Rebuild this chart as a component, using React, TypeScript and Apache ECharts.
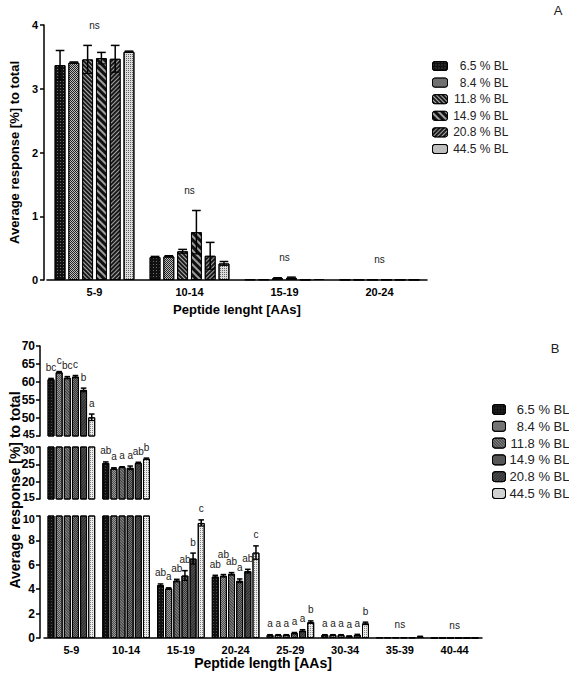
import React, { useEffect, useRef } from 'react';
import * as echarts from 'echarts';

const FONT = '"Liberation Sans", Arial, Helvetica, sans-serif';

const seriesNames = ['6.5 % BL', '8.4 % BL', '11.8 % BL', '14.9 % BL', '20.8 % BL', '44.5 % BL'];

// Panel A
const categoriesA = ['5-9', '10-14', '15-19', '20-24'];
const meanA = [
  [3.37, 0.36, 0.01, 0.005],
  [3.41, 0.37, 0.01, 0.005],
  [3.46, 0.45, 0.03, 0.005],
  [3.48, 0.75, 0.035, 0.005],
  [3.47, 0.38, 0.005, 0.005],
  [3.58, 0.26, 0.015, 0.005],
];
const errA = [
  [0.23, 0.01, 0, 0],
  [0.01, 0.01, 0, 0],
  [0.22, 0.03, 0.005, 0],
  [0.09, 0.34, 0.01, 0],
  [0.21, 0.21, 0, 0],
  [0.01, 0.03, 0, 0],
];
const groupLabelsA = ['ns', 'ns', 'ns', 'ns'];
const yRangeA = [0, 4, 1];

// Panel B
const categoriesB = ['5-9', '10-14', '15-19', '20-24', '25-29', '30-34', '35-39', '40-44'];
const meanB = [
  [60.8, 25.4, 4.33, 5.04, 0.25, 0.25, 0.05, 0.01],
  [62.7, 23.8, 4.06, 5.1, 0.25, 0.25, 0.05, 0.01],
  [61.2, 24.2, 4.71, 5.26, 0.25, 0.25, 0.05, 0.01],
  [61.5, 24.0, 5.12, 4.69, 0.4, 0.15, 0.05, 0.01],
  [57.8, 25.4, 6.51, 5.48, 0.6, 0.25, 0.05, 0.01],
  [50.2, 26.6, 9.43, 7.0, 1.3, 1.2, 0.12, 0.01],
];
const errB = [
  [0.2, 0.3, 0.1, 0.1, 0.02, 0.02, 0, 0],
  [0.2, 0.2, 0.05, 0.1, 0.02, 0.02, 0, 0],
  [0.3, 0.1, 0.1, 0.1, 0.02, 0.02, 0, 0],
  [0.3, 0.5, 0.4, 0.15, 0.05, 0.02, 0, 0],
  [0.5, 0.2, 0.45, 0.15, 0.08, 0.05, 0, 0],
  [0.9, 0.2, 0.25, 0.55, 0.1, 0.1, 0.02, 0],
];
const lettersB = [
  ['bc', 'ab', 'ab', 'ab', 'a', 'a', '', ''],
  ['c', 'a', 'a', 'ab', 'a', 'a', '', ''],
  ['bc', 'a', 'ab', 'ab', 'a', 'a', '', ''],
  ['c', 'a', 'ab', 'a', 'a', 'a', '', ''],
  ['b', 'ab', 'b', 'ab', 'a', 'a', '', ''],
  ['a', 'b', 'c', 'c', 'b', 'b', '', ''],
];
const groupLabelsB = ['', '', '', '', '', '', 'ns', 'ns'];
// broken axis segments: [min, max, interval]
const segmentsB = [
  [45, 70, 5],
  [15, 30, 5],
  [0, 10, 2],
];

// ---------- styles / layout ----------
const GRID_A = { left: 43, top: 25, width: 384, height: 255 };
const Y_OFFSET_A = 3;
const GRIDS_B = [
  { left: 44, top: 346, width: 438, height: 90 },
  { left: 44, top: 447, width: 438, height: 52 },
  { left: 44, top: 516, width: 438, height: 122 },
];
const Y_OFFSET_B = 4;
const CAT_GAP_A = 0.16;
const BAR_GAP_A = 0.27;
const CAT_GAP_B = 0.13;
const BAR_GAP_B = 0.17;

const stylesA = [
  { color: '#111', decal: { symbol: 'rect', symbolSize: 1, color: 'rgba(255,255,255,0.4)', dashArrayX: [1, 2], dashArrayY: [1, 2] } },
  { color: '#222', decal: { symbol: 'rect', symbolSize: 1, color: 'rgba(255,255,255,0.7)', dashArrayX: [[1, 1], [0, 1, 1, 0]], dashArrayY: [1, 0] } },
  { color: '#1a1a1a', decal: { symbol: 'rect', symbolSize: 1, color: 'rgba(255,255,255,0.65)', dashArrayX: [1, 0], dashArrayY: [1, 2], rotation: Math.PI / 4 } },
  { color: '#111', decal: { symbol: 'rect', symbolSize: 1, color: 'rgba(255,255,255,0.6)', dashArrayX: [1, 0], dashArrayY: [2, 3], rotation: Math.PI / 4 } },
  { color: '#1a1a1a', decal: { symbol: 'rect', symbolSize: 1, color: 'rgba(255,255,255,0.6)', dashArrayX: [1, 0], dashArrayY: [1, 2], rotation: -Math.PI / 4 } },
  { color: '#dcdcdc', decal: { symbol: 'rect', symbolSize: 1, color: 'rgba(0,0,0,0.55)', dashArrayX: [1, 1], dashArrayY: [1, 1] } },
];
const stylesB = [
  { color: '#111', decal: { symbol: 'rect', symbolSize: 1, color: 'rgba(255,255,255,0.25)', dashArrayX: [1, 2], dashArrayY: [1, 2] } },
  { color: '#9a9a9a', decal: { symbol: 'rect', symbolSize: 1, color: 'rgba(0,0,0,0.5)', dashArrayX: [[1, 1], [0, 1, 1, 0]], dashArrayY: [1, 0] } },
  { color: '#888', decal: { symbol: 'rect', symbolSize: 1, color: 'rgba(0,0,0,0.55)', dashArrayX: [1, 0], dashArrayY: [1, 1], rotation: Math.PI / 4 } },
  { color: '#777', decal: { symbol: 'rect', symbolSize: 1, color: 'rgba(0,0,0,0.55)', dashArrayX: [[1, 1], [0, 1, 1, 0]], dashArrayY: [1, 0] } },
  { color: '#555', decal: { symbol: 'rect', symbolSize: 1, color: 'rgba(0,0,0,0.5)', dashArrayX: [1, 0], dashArrayY: [1, 1], rotation: -Math.PI / 4 } },
  { color: '#ececec', decal: { symbol: 'rect', symbolSize: 1, color: 'rgba(0,0,0,0.45)', dashArrayX: [1, 1], dashArrayY: [1, 1] } },
];

type Item = { cat: number; si: number; mean: number; err: number; label: string };
type Box = { x1: number; x2: number; y1: number; y2: number };

function errorSeries(
  xi: number,
  yi: number,
  items: Item[],
  catGap: number,
  barGap: number,
  fontSize: number,
  labelGap: number,
  groupGap: number
) {
  const n = seriesNames.length;
  let placed: Box[] = [];
  return {
    type: 'custom',
    xAxisIndex: xi,
    yAxisIndex: yi,
    z: 10,
    silent: true,
    clip: false,
    data: items.map((it) => [it.cat, it.mean + it.err]),
    encode: { x: 0, y: 1 },
    renderItem: (params: any, api: any) => {
      if (params.dataIndex === 0) placed = [];
      const it = items[params.dataIndex];
      const band = api.size([1, 0])[0];
      const cx = api.coord([it.cat, 0])[0];
      let x = cx;
      let capW = 0;
      if (it.si >= 0) {
        const rem = band * (1 - catGap);
        const bw = rem / (n + (n - 1) * barGap);
        x = cx - rem / 2 + it.si * bw * (1 + barGap) + bw / 2;
        capW = bw * 0.8;
      }
      const yHi = api.coord([it.cat, it.mean + it.err])[1];
      const yLo = api.coord([it.cat, it.mean - it.err])[1];
      const children: any[] = [];
      if (it.err > 0) {
        children.push({
          type: 'line',
          shape: { x1: x, y1: yLo, x2: x, y2: yHi },
          style: { stroke: '#000', lineWidth: 1.5 },
        });
        children.push({
          type: 'line',
          shape: { x1: x - capW / 2, y1: yHi, x2: x + capW / 2, y2: yHi },
          style: { stroke: '#000', lineWidth: 1.5 },
        });
        children.push({
          type: 'line',
          shape: { x1: x - capW / 2, y1: yLo, x2: x + capW / 2, y2: yLo },
          style: { stroke: '#000', lineWidth: 1.2 },
        });
      }
      if (it.label) {
        const isGroup = it.si < 0;
        let bottom = yHi - (isGroup ? groupGap : labelGap);
        const w = it.label.length * fontSize * 0.556;
        const h = fontSize;
        // greedy stacking of overlapping letters (raise the later one)
        let moved = true;
        let guard = 0;
        while (moved && guard < 20) {
          moved = false;
          guard++;
          for (const b of placed) {
            const ox = Math.min(x + w / 2, b.x2) - Math.max(x - w / 2, b.x1);
            const oy = Math.min(bottom, b.y2) - Math.max(bottom - h, b.y1);
            if (ox > 1 && oy > 4) {
              bottom = b.y1;
              moved = true;
            }
          }
        }
        placed.push({ x1: x - w / 2, x2: x + w / 2, y1: bottom - h, y2: bottom });
        children.push({
          type: 'text',
          x,
          y: bottom,
          style: {
            text: it.label,
            align: 'center',
            verticalAlign: 'bottom',
            font: `${fontSize}px ${FONT}`,
            fill: '#222',
            stroke: 'transparent',
            lineWidth: 0,
          },
        });
      }
      return { type: 'group', children };
    },
  };
}

const axisLineStyle = { color: '#000', width: 1.5 };

function buildOption() {
  const series: any[] = [];
  // ---- Panel A bars
  seriesNames.forEach((name, si) => {
    series.push({
      type: 'bar',
      name,
      xAxisIndex: 0,
      yAxisIndex: 0,
      data: meanA[si],
      barCategoryGap: CAT_GAP_A * 100 + '%',
      barGap: BAR_GAP_A * 100 + '%',
      itemStyle: { ...stylesA[si], borderColor: '#000', borderWidth: 1 },
    });
  });
  const itemsA: Item[] = [];
  categoriesA.forEach((_, ci) => {
    let top = 0;
    seriesNames.forEach((__, si) => {
      itemsA.push({ cat: ci, si, mean: meanA[si][ci], err: errA[si][ci], label: '' });
      top = Math.max(top, meanA[si][ci] + errA[si][ci]);
    });
    if (groupLabelsA[ci]) itemsA.push({ cat: ci, si: -1, mean: top, err: 0, label: groupLabelsA[ci] });
  });
  series.push(errorSeries(0, 0, itemsA, CAT_GAP_A, BAR_GAP_A, 10, 5, 15));

  // ---- Panel B bars (three grids)
  segmentsB.forEach((seg, gi) => {
    const axisIdx = gi + 1;
    seriesNames.forEach((name, si) => {
      series.push({
        type: 'bar',
        name: 'B:' + name,
        xAxisIndex: axisIdx,
        yAxisIndex: axisIdx,
        data: meanB[si],
        clip: true,
        barCategoryGap: CAT_GAP_B * 100 + '%',
        barGap: BAR_GAP_B * 100 + '%',
        itemStyle: { ...stylesB[si], borderColor: '#000', borderWidth: 1 },
      });
    });
    const items: Item[] = [];
    categoriesB.forEach((_, ci) => {
      let top = 0;
      let inRange = false;
      seriesNames.forEach((__, si) => {
        const m = meanB[si][ci];
        top = Math.max(top, m + errB[si][ci]);
        if (m > seg[0] && m <= seg[1]) {
          inRange = true;
          items.push({ cat: ci, si, mean: m, err: errB[si][ci], label: lettersB[si][ci] });
        }
      });
      if (groupLabelsB[ci] && inRange) items.push({ cat: ci, si: -1, mean: top, err: 0, label: groupLabelsB[ci] });
    });
    series.push(errorSeries(axisIdx, axisIdx, items, CAT_GAP_B, BAR_GAP_B, 10, 6, 7));
  });

  const grid = [GRID_A, ...GRIDS_B].map((g) => ({ ...g, containLabel: false }));

  const xAxis: any[] = [
    {
      gridIndex: 0,
      type: 'category',
      data: categoriesA,
      axisLine: { lineStyle: axisLineStyle },
      axisTick: { alignWithLabel: true, length: 4, lineStyle: axisLineStyle },
      axisLabel: { fontWeight: 'bold', fontSize: 11, color: '#000', margin: 6, fontFamily: FONT },
      name: 'Peptide lenght [AAs]',
      nameLocation: 'middle',
      nameGap: 23,
      nameTextStyle: { fontWeight: 'bold', fontSize: 13, color: '#000', fontFamily: FONT },
    },
  ];
  const yAxis: any[] = [
    {
      gridIndex: 0,
      type: 'value',
      min: yRangeA[0],
      max: yRangeA[1],
      interval: yRangeA[2],
      offset: Y_OFFSET_A,
      axisLine: { show: true, lineStyle: axisLineStyle },
      axisTick: { show: true, length: 4, lineStyle: axisLineStyle },
      splitLine: { show: false },
      axisLabel: { fontWeight: 'bold', fontSize: 11, color: '#000', margin: 6, fontFamily: FONT },
      name: 'Average response [%] to total',
      nameLocation: 'middle',
      nameRotate: 90,
      nameGap: 18,
      nameTextStyle: { fontWeight: 'bold', fontSize: 13, color: '#000', fontFamily: FONT },
    },
  ];
  const nSeg = segmentsB.length;
  segmentsB.forEach((seg, gi) => {
    const isBottom = gi === nSeg - 1;
    const isTop = gi === 0;
    xAxis.push({
      gridIndex: gi + 1,
      type: 'category',
      data: categoriesB,
      show: isBottom,
      axisLine: { lineStyle: axisLineStyle },
      axisTick: { alignWithLabel: true, length: 4, lineStyle: axisLineStyle },
      axisLabel: { fontWeight: 'bold', fontSize: 11, color: '#000', margin: 6, fontFamily: FONT },
      name: isBottom ? 'Peptide length [AAs]' : '',
      nameLocation: 'middle',
      nameGap: 18,
      nameTextStyle: { fontWeight: 'bold', fontSize: 14, color: '#000', fontFamily: FONT },
    });
    yAxis.push({
      gridIndex: gi + 1,
      type: 'value',
      min: seg[0],
      max: seg[1],
      interval: seg[2],
      offset: Y_OFFSET_B,
      axisLine: { show: true, onZero: false, lineStyle: axisLineStyle },
      axisTick: { show: true, length: 4, lineStyle: axisLineStyle },
      splitLine: { show: false },
      axisLabel: {
        color: '#000',
        margin: 5,
        // labels at the axis break are nudged apart so they do not collide
        formatter: (v: number) => {
          if (v === seg[0] && !isBottom) return `{lo|${v}}`;
          if (v === seg[1] && !isTop) return `{hi|${v}}`;
          return `{n|${v}}`;
        },
        rich: {
          n: { fontWeight: 'bold', fontSize: 12, fontFamily: FONT, color: '#000' },
          lo: { fontWeight: 'bold', fontSize: 11, fontFamily: FONT, color: '#000', padding: [0, 0, 5, 0] },
          hi: { fontWeight: 'bold', fontSize: 11, fontFamily: FONT, color: '#000', padding: [5, 0, 0, 0] },
        },
      },
    });
  });

  const legendCommon = {
    orient: 'vertical',
    selectedMode: false,
    itemStyle: { borderColor: '#000', borderWidth: 1 },
  };

  return {
    animation: false,
    backgroundColor: '#fff',
    textStyle: { fontFamily: FONT },
    grid,
    xAxis,
    yAxis,
    series,
    legend: [
      {
        ...legendCommon,
        left: 427,
        top: 55,
        itemGap: 4.6,
        itemWidth: 15,
        itemHeight: 9,
        data: seriesNames,
        formatter: (name: string) => `{r|${name}}`,
        textStyle: {
          rich: { r: { width: 56, align: 'right', fontSize: 12, color: '#222', fontFamily: FONT } },
        },
      },
      {
        ...legendCommon,
        left: 487,
        top: 398,
        itemGap: 3.8,
        itemWidth: 13,
        itemHeight: 10,
        data: seriesNames.map((n) => 'B:' + n),
        formatter: (name: string) => `{r|${name.slice(2)}}`,
        textStyle: {
          rich: { r: { width: 59, align: 'right', fontSize: 13, color: '#222', fontFamily: FONT } },
        },
      },
    ],
    graphic: [
      { type: 'text', x: 558, y: 10, style: { text: 'A', font: `13px ${FONT}`, fill: '#222', align: 'center', verticalAlign: 'middle' } },
      { type: 'text', x: 555, y: 348, style: { text: 'B', font: `13px ${FONT}`, fill: '#222', align: 'center', verticalAlign: 'middle' } },
      {
        type: 'text',
        x: 15,
        y: 490,
        rotation: Math.PI / 2,
        style: { text: 'Average response [%] to total', font: `bold 14px ${FONT}`, fill: '#000', align: 'center', verticalAlign: 'middle' },
      },
    ],
  };
}

export default function App() {
  const ref = useRef<HTMLDivElement>(null);
  useEffect(() => {
    if (!ref.current) return;
    const chart = echarts.init(ref.current, undefined, { renderer: 'svg' });
    chart.setOption(buildOption() as any);
    return () => chart.dispose();
  }, []);
  return (
    <div
      ref={ref}
      style={{ position: 'absolute', left: 0, top: 0, width: 569, height: 681, background: '#fff' }}
    />
  );
}
